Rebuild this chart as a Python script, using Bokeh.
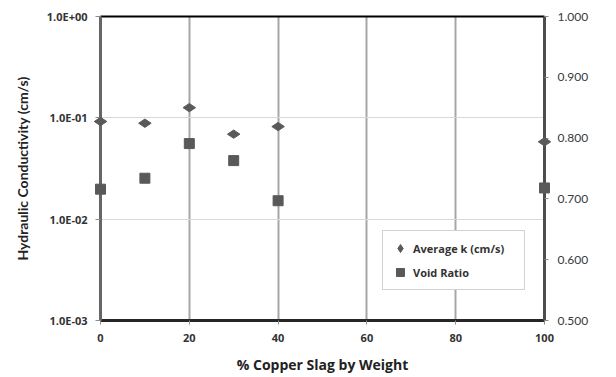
import math
from bokeh.plotting import figure
from bokeh.models import (Range1d, LinearAxis, LinearScale, FixedTicker,
                          CustomJSTickFormatter, PrintfTickFormatter, Legend,
                          LegendItem, Label)
from bokeh.embed import file_html
from bokeh.resources import INLINE

# ---- data ----
slag_pct = [0, 10, 20, 30, 40, 100]
avg_k = [0.092, 0.0885, 0.126, 0.069, 0.082, 0.058]
void_ratio = [0.716, 0.734, 0.791, 0.763, 0.697, 0.718]
x_ticks = [0, 20, 40, 60, 80, 100]
k_ticks = [0.001, 0.01, 0.1, 1.0]
void_ticks = [0.5, 0.6, 0.7, 0.8, 0.9, 1.0]

FONT = "Lato"
BFONT = "Open Sans"
MARK = "#595959"

p = figure(width=616, height=377, y_axis_type="log",
           x_range=Range1d(0, 100), y_range=Range1d(1e-3, 1.0),
           output_backend="svg", toolbar_location=None,
           min_border_left=100, min_border_right=72,
           min_border_top=16, min_border_bottom=57)
p.outline_line_color = None
p.background_fill_color = "white"
p.border_fill_color = "white"

p.extra_y_ranges = {"void": Range1d(0.5, 1.0)}
p.extra_y_scales = {"void": LinearScale()}

# grids
p.xgrid.ticker = FixedTicker(ticks=x_ticks)
p.xgrid.grid_line_color = "#a6a6a6"
p.xgrid.grid_line_width = 2
p.ygrid.ticker = FixedTicker(ticks=k_ticks)
p.ygrid.grid_line_color = "#d9d9d9"
p.ygrid.grid_line_width = 1

# x axis
xa = p.xaxis[0]
xa.ticker = FixedTicker(ticks=x_ticks)
xa.axis_label = "% Copper Slag by Weight"
xa.axis_label_text_font = BFONT
xa.axis_label_text_font_style = "bold"
xa.axis_label_text_font_size = "14px"
xa.axis_label_text_color = "#222222"
xa.axis_label_standoff = 10
xa.major_label_text_font = BFONT
xa.major_label_text_font_style = "bold"
xa.major_label_text_font_size = "11px"
xa.major_label_text_color = "#333333"
xa.major_label_standoff = 9
xa.axis_line_color = "#262626"
xa.axis_line_width = 3
xa.major_tick_line_color = "#8c8c8c"
xa.major_tick_out = 4
xa.major_tick_in = 0
xa.minor_tick_line_color = None

# left (log) axis
ya = p.yaxis[0]
ya.ticker = FixedTicker(ticks=k_ticks)
ya.formatter = CustomJSTickFormatter(code="""
const e = Math.round(Math.log10(tick));
const m = tick / Math.pow(10, e);
const a = Math.abs(e);
return m.toFixed(1) + "E" + (e < 0 ? "-" : "+") + (a < 10 ? "0" : "") + a;
""")
ya.axis_label = "Hydraulic Conductivity (cm/s)"
ya.axis_label_text_font = FONT
ya.axis_label_text_font_style = "bold"
ya.axis_label_text_font_size = "14px"
ya.axis_label_text_color = "#222222"
ya.axis_label_standoff = 13
ya.major_label_text_font = BFONT
ya.major_label_text_font_style = "bold"
ya.major_label_text_font_size = "11px"
ya.major_label_text_color = "#333333"
ya.major_label_standoff = 8
ya.axis_line_color = "#666666"
ya.axis_line_width = 3
ya.major_tick_line_color = "#8c8c8c"
ya.major_tick_out = 5
ya.major_tick_in = 0
ya.minor_tick_line_color = None

# right (void ratio) axis
ra = LinearAxis(y_range_name="void", ticker=FixedTicker(ticks=void_ticks),
                formatter=PrintfTickFormatter(format="%.3f"))
ra.major_label_text_font = FONT
ra.major_label_text_font_size = "12px"
ra.major_label_text_color = "#3a3a3a"
ra.major_label_standoff = 9
ra.axis_line_color = "#4d4d4d"
ra.axis_line_width = 3
ra.major_tick_line_color = "#8c8c8c"
ra.major_tick_out = 4
ra.major_tick_in = 0
ra.minor_tick_line_color = None
p.add_layout(ra, "right")

# top border as an axis without ticks
ta = LinearAxis(ticker=FixedTicker(ticks=[]))
ta.axis_line_color = "black"
ta.axis_line_width = 2
ta.major_tick_line_color = None
ta.minor_tick_line_color = None
ta.major_label_text_font_size = "0px"
p.add_layout(ta, "above")

# right axis title (reads bottom-to-top)
p.add_layout(Label(x=505, y=152, x_units="screen", y_units="screen",
                   text="Void Ratio", angle=math.pi / 2,
                   text_align="center", text_baseline="middle",
                   text_font=FONT, text_font_size="13.5px",
                   text_color="#222222"))

# series
r1 = p.scatter(slag_pct, avg_k, marker="diamond", angle=math.pi / 2,
               size=12.5, color=MARK, level="overlay")
r2 = p.scatter(slag_pct, void_ratio, marker="square", size=10,
               color=MARK, y_range_name="void", level="overlay")

legend = Legend(items=[LegendItem(label="Average k (cm/s)", renderers=[r1]),
                       LegendItem(label="Void Ratio", renderers=[r2])],
                location=(282, 30))
legend.border_line_color = "#a6a6a6"
legend.border_line_width = 1
legend.background_fill_color = "white"
legend.background_fill_alpha = 1.0
legend.padding = 7
legend.spacing = 4
legend.margin = 0
legend.glyph_width = 20
legend.glyph_height = 20
legend.label_height = 20
legend.label_width = 104
legend.label_standoff = 3
legend.label_text_font = BFONT
legend.label_text_font_style = "bold"
legend.label_text_font_size = "11px"
legend.label_text_color = "#333333"
p.add_layout(legend)

open("out.html", "w").write(file_html(p, INLINE))
